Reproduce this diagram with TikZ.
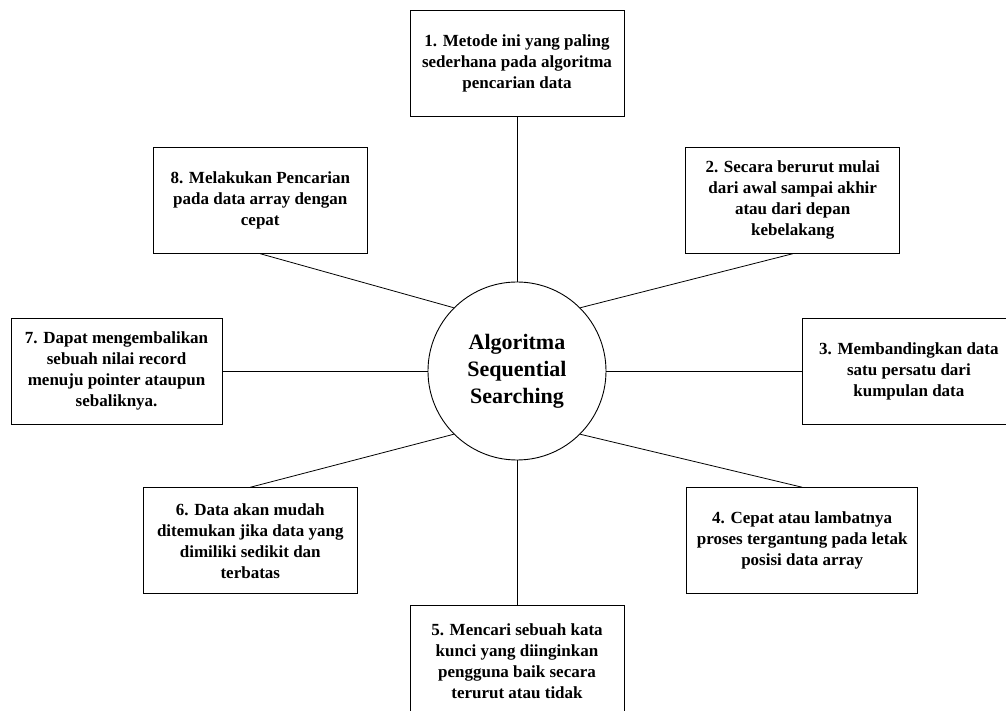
\documentclass[tikz,border=0pt]{standalone}
\usepackage{fontspec}
\setmainfont{Liberation Serif}
\usetikzlibrary{positioning}
\tikzstyle{link} = [draw, line width=0.8pt]

\begin{document}
\begin{tikzpicture}[node distance=1cm,
    point/.style={rectangle, draw, line width=0.9pt, minimum width=214pt, minimum height=106pt, align=center, inner sep=0pt, font=\fontsize{17}{21}\selectfont\bfseries},
    hub/.style={circle, draw, line width=0.9pt, minimum size=178pt, align=center, inner sep=0pt, font=\fontsize{22}{27}\selectfont\bfseries}]

    % page frame (boxes 3 and 5 run off the edge)
    \clip (-517pt,-340pt) rectangle (489pt,371pt);

    % CENTRE
    \node[hub] (center) at (0,0) {Algoritma\\Sequential\\Searching};

    % Straight neighbours
    \node[point, above=165pt of center] (metode) {1. Metode ini yang paling\\sederhana pada algoritma\\pencarian data};
    \node[point, right=196pt of center, minimum width=212pt] (banding) {3. Membandingkan data\\satu persatu dari\\kumpulan data};
    \node[point, below=145pt of center, minimum height=110pt] (cari) {5. Mencari sebuah kata\\kunci yang diinginkan\\pengguna baik secara\\terurut atau tidak};
    \node[point, left=205pt of center, minimum width=211pt] (kembali) {7. Dapat mengembalikan\\sebuah nilai record\\menuju pointer ataupun\\sebaliknya.};

    % Diagonal neighbours
    \node[point, above right=54pt and 105pt of center] (urut) {2. Secara berurut mulai\\dari awal sampai akhir\\atau dari depan\\kebelakang};
    \node[point, below right=53pt and 106pt of center, minimum width=231pt] (cepat) {4. Cepat atau lambatnya\\proses tergantung pada letak\\posisi data array};
    \node[point, below left=53pt and 96pt of center] (mudah) {6. Data akan mudah\\ditemukan jika data yang\\dimiliki sedikit dan\\terbatas};
    \node[point, above left=54pt and 86pt of center] (array) {8. Melakukan Pencarian\\pada data array dengan\\cepat};

    % Spokes
    \draw[link] (center.north) -- (metode.south);
    \draw[link] (center.north east) -- (urut.south);
    \draw[link] (center.east) -- (banding.west);
    \draw[link] (center.south east) -- (cepat.north);
    \draw[link] (center.south) -- (cari.north);
    \draw[link] (center.south west) -- (mudah.north);
    \draw[link] (center.west) -- (kembali.east);
    \draw[link] (center.north west) -- (array.south);

\end{tikzpicture}
\end{document}
